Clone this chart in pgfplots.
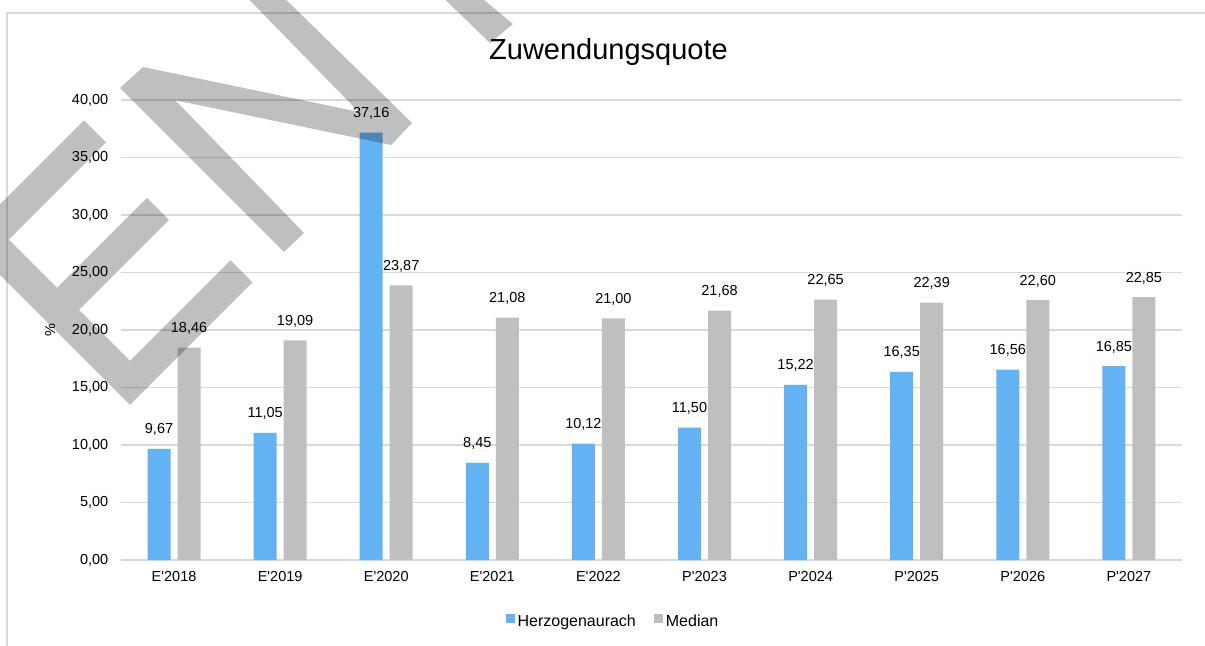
\documentclass[border=0pt]{standalone}
\usepackage{fontspec}
\setmainfont{Liberation Sans}[Ligatures=TeXOff]
\usepackage{pgfplots}
\pgfplotsset{compat=1.18}
\definecolor{hblue}{HTML}{63B3F4}
\definecolor{mgrey}{HTML}{BFBFBF}
\definecolor{gridgrey}{HTML}{D9D9D9}
\newcommand\fs{\fontsize{14.5bp}{17bp}\selectfont}

\begin{document}
\begin{tikzpicture}
\useasboundingbox (-121bp,-86bp) rectangle (1084bp,560bp);
% chart frame
\draw[gridgrey, line width=1.2bp] (-114bp,-95bp) -- (-114bp,547bp) -- (1095bp,547bp);
\begin{axis}[
    at={(0,0)}, anchor=south west,
    scale only axis, width=1061bp, height=460bp,
    ybar=7bp, bar width=23bp,
    xmin=-0.5, xmax=9.5, ymin=0, ymax=40,
    xtick={0,...,9},
    xticklabels={E'2018,E'2019,E'2020,E'2021,E'2022,P'2023,P'2024,P'2025,P'2026,P'2027},
    ytick={0,5,...,40},
    yticklabel={\pgfmathprintnumber{\tick}},
    scaled y ticks=false,
    ymajorgrids, grid style={gridgrey, line width=1.2bp},
    axis x line*=bottom, axis y line*=left,
    x axis line style={gridgrey, line width=1.2bp, -},
    y axis line style={draw=none},
    major tick length=0pt, tick style={draw=none},
    tick label style={font=\fs, text=black},
    xticklabel style={yshift=-8.2bp},
    yticklabel style={xshift=-9.2bp},
    ylabel={\%},
    ylabel style={at={(axis description cs:-0.0669,0.5)}, anchor=center, font=\fs},
    title={Zuwendungsquote},
    title style={at={(axis description cs:0.4595,1)}, anchor=base, yshift=35bp,
        font=\fontsize{29bp}{33bp}\selectfont},
    nodes near coords,
    every node near coord/.append style={font=\fs, text=black, anchor=base, yshift=15bp, inner sep=0pt},
    legend style={at={(axis description cs:0.4628,0)}, anchor=center, yshift=-61bp,
        draw=none, fill=none, legend columns=2, font=\fontsize{16bp}{19bp}\selectfont,
        nodes={inner sep=0pt},
        /tikz/every odd column/.append style={column sep=3bp},
        /tikz/every even column/.append style={column sep=18bp}},
    legend image code/.code={\fill[#1] (0bp,-1bp) rectangle (9bp,8bp);},
    clip=false,
    /pgf/number format/fixed,
    /pgf/number format/fixed zerofill,
    /pgf/number format/precision=2,
    /pgf/number format/use comma,
    /pgf/number format/1000 sep={},
    /pgf/number format/assume math mode=true,
]
\addplot[fill=hblue, draw=none] coordinates {
    (0,9.67) (1,11.05) (2,37.16) (3,8.45) (4,10.12)
    (5,11.50) (6,15.22) (7,16.35) (8,16.56) (9,16.85)
};
\addlegendentry{Herzogenaurach}
\addplot[fill=mgrey, draw=none] coordinates {
    (0,18.46) (1,19.09) (2,23.87) (3,21.08) (4,21.00)
    (5,21.68) (6,22.65) (7,22.39) (8,22.60) (9,22.85)
};
\addlegendentry{Median}
\end{axis}
% watermark, in pixel coordinates of the image
\begin{scope}[x=1bp, y=-1bp, shift={(-121bp,560bp)}]
\clip (0,0) rectangle (1205,646);
\fill[black, opacity=0.25]
    (-30,201) -- (152,383) -- (130,405) -- (-30,245) -- cycle
    (108,383) -- (230.5,260.5) -- (252.5,282.5) -- (130,405) -- cycle
    (46,299) -- (147,198) -- (169,220) -- (68,321) -- cycle
    (-40,244.5) -- (84,120.5) -- (106,142.5) -- (-20,268.5) -- cycle
    (120,88) -- (143,67) -- (304,233) -- (284,252) -- cycle
    (143,67) -- (412,123) -- (391,145) -- (150,95) -- cycle
    (230,-20) -- (266,-20) -- (412,123) -- (391,145) -- cycle
    (425,-20) -- (460,-20) -- (513,24) -- (490,43) -- cycle;
\end{scope}
\end{tikzpicture}
\end{document}
